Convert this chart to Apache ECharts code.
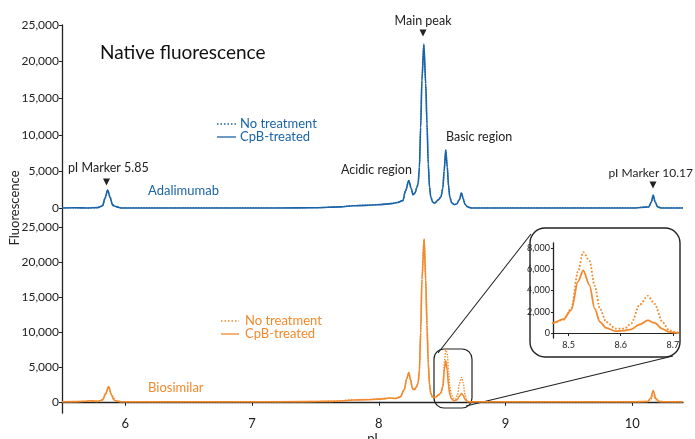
<!DOCTYPE html>
<html>
<head>
<meta charset="utf-8">
<script src="https://cdn.jsdelivr.net/npm/echarts@6/dist/echarts.min.js"></script>
<style>
  html, body { margin: 0; padding: 0; background: #fff; }
  #chart { width: 695px; height: 439px; }
</style>
</head>
<body>
<div id="chart"></div>
<script>
// ---- Adalimumab trace (upper panel) ----
const adaPI = [5.5, 5.6, 5.7, 5.78, 5.82, 5.84, 5.86, 5.88, 5.9, 5.93, 5.97, 6.3, 6.8, 7.2, 7.5, 7.7, 7.8, 7.9, 8.0, 8.1,
  8.15, 8.19, 8.21, 8.236, 8.255, 8.27, 8.285, 8.30, 8.31, 8.32, 8.33, 8.34, 8.355, 8.37, 8.38, 8.39, 8.40, 8.41, 8.425, 8.44,
  8.47, 8.49, 8.505, 8.515, 8.528, 8.54, 8.55, 8.56, 8.575, 8.595, 8.615, 8.635, 8.652, 8.665, 8.68, 8.70, 8.73,
  9.0, 9.5, 10.0, 10.13, 10.15, 10.165, 10.18, 10.2, 10.23, 10.4];
const adaNoTreatment = [0, 20, 0, 40, 250, 1300, 2400, 1500, 450, 200, 0, 0, 0, 0, 40, 170, 320, 380, 480, 620,
  780, 1050, 2350, 3700, 2650, 1800, 2050, 2850, 3350, 5600, 11200, 17600, 22300, 16900, 11400, 6100, 2900, 1550, 820, 670,
  1150, 1550, 2750, 5100, 7950, 5650, 3050, 1550, 720, 460, 560, 1120, 2080, 1320, 520, 160, 0,
  0, 0, 0, 150, 800, 1700, 820, 160, 0, 0];
const adaCpB = [0, 30, 0, 50, 300, 1400, 2450, 1400, 350, 150, 0, 0, 0, 0, 30, 150, 300, 350, 450, 600,
  750, 1000, 2300, 3750, 2700, 1800, 2000, 2800, 3300, 5500, 11000, 17500, 22400, 17000, 11500, 6000, 2800, 1500, 800, 650,
  1100, 1500, 2700, 5000, 7900, 5600, 3000, 1500, 700, 450, 550, 1100, 2050, 1300, 500, 150, 0,
  0, 0, 0, 150, 800, 1750, 800, 150, 0, 0];

// ---- Biosimilar trace (lower panel and zoomed inset) ----
const bioPI = [5.5, 5.6, 5.68, 5.73, 5.78, 5.82, 5.845, 5.868, 5.89, 5.91, 5.93, 5.97, 6.2, 6.6, 7.0, 7.4, 7.6, 7.7, 7.8, 7.9,
  8.0, 8.05, 8.09, 8.13, 8.17, 8.2, 8.22, 8.236, 8.25, 8.265, 8.28, 8.295, 8.31, 8.32, 8.33, 8.34, 8.357, 8.37, 8.38, 8.39,
  8.40, 8.41, 8.425, 8.445,
  8.47, 8.49, 8.505, 8.518, 8.528, 8.54, 8.55, 8.56, 8.572, 8.59, 8.607, 8.62, 8.636, 8.652, 8.665, 8.68, 8.693, 8.706, 8.72,
  8.8, 9.2, 9.6, 10.0, 10.12, 10.145, 10.165, 10.185, 10.21, 10.25, 10.4];
const bioNoTreatment = [0, 20, 60, 120, 60, 300, 1100, 2100, 1100, 500, 150, 0, 0, 0, 0, 30, 80, 160, 300, 330,
  400, 470, 560, 500, 720, 1750, 3350, 4150, 3150, 1850, 1700, 2050, 2650, 4400, 9800, 17300, 23200, 17400, 10900, 5400,
  2450, 1150, 620, 640,
  950, 1250, 2300, 5790, 7600, 6800, 4450, 2300, 1040, 420, 410, 890, 2630, 3500, 2750, 1040, 250, 60, 0,
  0, 0, 0, 0, 40, 300, 850, 300, 40, 0, 0];
const bioCpB = [0, 30, 80, 150, 40, 250, 1200, 2200, 1000, 250, 100, 0, 0, 0, 0, 20, 60, 120, 250, 300,
  380, 450, 550, 480, 700, 1700, 3300, 4200, 3200, 1900, 1750, 2100, 2700, 4500, 10000, 17500, 23300, 17500, 11000, 5500,
  2500, 1200, 650, 650,
  950, 1300, 2150, 4840, 5880, 4500, 2300, 1050, 480, 180, 220, 350, 800, 1180, 950, 380, 100, 10, 0,
  0, 0, 0, 0, 50, 500, 1600, 500, 60, 0, 0];

// ---- axis ticks ----
const pITicks = [6, 7, 8, 9, 10];
const fluorTicks = [0, 5000, 10000, 15000, 20000, 25000];
const insetPITicks = [8.5, 8.6, 8.7];
const insetFluorTicks = [0, 2000, 4000, 6000, 8000];

const BLUE = '#1b64a7';
const ORANGE = '#f28a2d';
const INK = '#222';
const FONT = 'Lato, "Open Sans", sans-serif';

const pairs = (xs, ys) => xs.map((x, i) => [x, ys[i]]);
const thousands = v => Math.round(v).toLocaleString('en-US');

const chart = echarts.init(document.getElementById('chart'), null, { renderer: 'canvas' });

function yAxisFor(grid, min, max, ticks, fontSize, tickLen) {
  return {
    gridIndex: grid, type: 'value', min: min, max: max,
    axisLine: { show: true, lineStyle: { color: INK, width: 1.3 } },
    axisTick: { show: true, length: tickLen, customValues: ticks, lineStyle: { color: INK } },
    axisLabel: { show: true, customValues: ticks, formatter: thousands, fontSize: fontSize,
      color: INK, margin: 3, fontFamily: FONT },
    splitLine: { show: false }
  };
}

function trace(name, data, color, dotted, xi, width) {
  return {
    name: name, type: 'line', xAxisIndex: xi, yAxisIndex: xi,
    data: data, showSymbol: false, symbol: 'none', smooth: 0.3, smoothMonotone: 'x',
    lineStyle: { color: color, width: width, type: dotted ? 'dotted' : 'solid' },
    silent: true
  };
}

function label(text, x, y, color, size, align) {
  return { type: 'text', x: x, y: y, silent: true,
    style: { text: text, fill: color, font: size + 'px ' + FONT,
      textAlign: align || 'left', textVerticalAlign: 'middle' } };
}
function arrow(x, y) {
  return { type: 'polygon', silent: true,
    shape: { points: [[x - 3.5, y - 3.5], [x + 3.5, y - 3.5], [x, y + 3.5]] },
    style: { fill: INK } };
}
function key(x1, x2, y, color, dotted) {
  return { type: 'line', silent: true, shape: { x1: x1, y1: y, x2: x2, y2: y },
    style: { stroke: color, lineWidth: 1.3, lineDash: dotted ? [1.5, 2] : null } };
}

const option = {
  animation: false,
  textStyle: { fontFamily: FONT },
  title: {
    text: 'Native fluorescence', left: 100, top: 43, padding: 0,
    textStyle: { fontSize: 19, fontWeight: 'normal', color: '#111', fontFamily: FONT }
  },
  grid: [
    { left: 62, right: 12, top: 25, height: 202, outerBoundsMode: 'none', containLabel: false },
    { left: 62, right: 12, top: 227, height: 186, outerBoundsMode: 'none', containLabel: false },
    { left: 553, width: 124, top: 243, height: 95, outerBoundsMode: 'none', containLabel: false }
  ],
  xAxis: [
    { gridIndex: 0, type: 'value', min: 5.5, max: 10.4, show: false },
    { gridIndex: 1, type: 'value', min: 5.5, max: 10.4,
      name: 'pI', nameLocation: 'middle', nameGap: 19,
      nameTextStyle: { fontSize: 13, color: INK, fontFamily: FONT },
      axisLine: { lineStyle: { color: INK, width: 1.3 } },
      axisTick: { length: 4, customValues: pITicks, lineStyle: { color: INK } },
      axisLabel: { customValues: pITicks, fontSize: 13, color: INK, margin: 4, fontFamily: FONT },
      splitLine: { show: false } },
    { gridIndex: 2, type: 'value', min: 8.47, max: 8.708,
      axisLine: { lineStyle: { color: INK, width: 1 } },
      axisTick: { length: 3, customValues: insetPITicks, lineStyle: { color: INK } },
      axisLabel: { customValues: insetPITicks, formatter: v => v.toFixed(1), fontSize: 9,
        color: INK, margin: 3, fontFamily: FONT },
      splitLine: { show: false } }
  ],
  yAxis: [
    yAxisFor(0, -2600, 25000, fluorTicks, 12, 3),
    yAxisFor(1, -1600, 25000, fluorTicks, 12, 3),
    yAxisFor(2, -470, 8470, insetFluorTicks, 9, 2)
  ],
  series: [
    trace('Adalimumab CpB-treated', pairs(adaPI, adaCpB), BLUE, false, 0, 1.6),
    trace('Adalimumab no treatment', pairs(adaPI, adaNoTreatment), BLUE, true, 0, 1.3),
    trace('Biosimilar CpB-treated', pairs(bioPI, bioCpB), ORANGE, false, 1, 1.6),
    trace('Biosimilar no treatment', pairs(bioPI, bioNoTreatment), ORANGE, true, 1, 1.4),
    trace('Biosimilar CpB-treated (zoom)', pairs(bioPI, bioCpB), ORANGE, false, 2, 1.8),
    trace('Biosimilar no treatment (zoom)', pairs(bioPI, bioNoTreatment), ORANGE, true, 2, 1.8)
  ],
  graphic: [
    // axis title shared by both panels
    { type: 'text', x: 15, y: 208, rotation: Math.PI / 2, silent: true,
      style: { text: 'Fluorescence', fill: INK, font: '13px ' + FONT, textAlign: 'center', textVerticalAlign: 'middle' } },

    // upper panel annotations
    label('Main peak', 423, 21, INK, 12.5, 'center'), arrow(423, 33),
    label('Acidic region', 341, 170, INK, 12.5),
    label('Basic region', 446, 137, INK, 12.5),
    label('pI Marker 5.85', 68, 168, INK, 12.5), arrow(106.5, 182),
    label('pI Marker 10.17', 693, 173, INK, 12, 'right'), arrow(653, 185),
    key(217, 236, 124, BLUE, true), label('No treatment', 240, 124, BLUE, 13),
    key(217, 236, 137, BLUE, false), label('CpB-treated', 240, 137, BLUE, 13),
    label('Adalimumab', 148, 191, BLUE, 13),

    // lower panel annotations
    key(221, 239, 321, ORANGE, true), label('No treatment', 245, 321, ORANGE, 13),
    key(221, 239, 334, ORANGE, false), label('CpB-treated', 245, 334, ORANGE, 13),
    label('Biosimilar', 148, 388, ORANGE, 13),

    // zoom callout: region box, connectors and inset frame
    { type: 'rect', silent: true, shape: { x: 434, y: 349, width: 38, height: 59, r: 10 },
      style: { fill: 'none', stroke: INK, lineWidth: 1.2 } },
    { type: 'line', silent: true, shape: { x1: 438, y1: 353, x2: 531, y2: 234 },
      style: { stroke: INK, lineWidth: 1.1 } },
    { type: 'line', silent: true, shape: { x1: 466, y1: 406, x2: 673, y2: 356 },
      style: { stroke: INK, lineWidth: 1.1 } },
    { type: 'rect', silent: true, shape: { x: 530, y: 228, width: 150, height: 129, r: 15 },
      style: { fill: 'none', stroke: INK, lineWidth: 1.4 } }
  ]
};

chart.setOption(option);
</script>
</body>
</html>
